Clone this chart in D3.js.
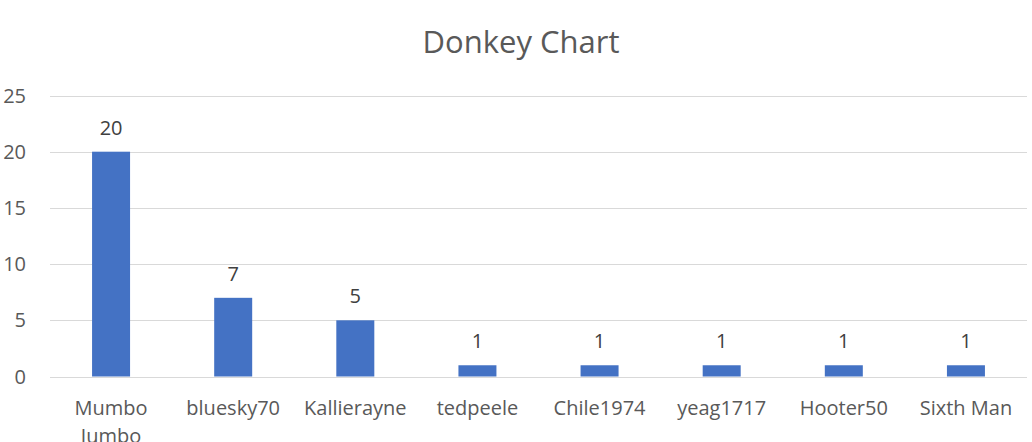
<!DOCTYPE html>
<html><head><meta charset="utf-8">
<script src="https://cdn.jsdelivr.net/npm/d3@7"></script>
<style>body{margin:0;background:#fff}svg{display:block}text{font-family:"Open Sans",sans-serif}</style>
</head><body>
<svg id="c" width="1032" height="442"></svg>
<script>
const categories = ["Mumbo Jumbo","bluesky70","Kallierayne","tedpeele","Chile1974","yeag1717","Hooter50","Sixth Man"];
const values = [20,7,5,1,1,1,1,1];
const yTicks = [0,5,10,15,20,25];
const title = "Donkey Chart";

(function(){
const svg = d3.select("#c");
const pL = 50, pR = 1027, pT = 95.5, pB = 376.5;
const x = d3.scaleBand().domain(categories).range([pL,pR]);
const y = d3.scaleLinear().domain([0,25]).range([pB,pT]);
const barW = 38;
const grey = "#595959";

svg.append("text").attr("x",521).attr("y",53).attr("text-anchor","middle")
  .attr("font-size",31).attr("fill",grey).text(title);

svg.append("g").selectAll("line").data(yTicks).join("line")
  .attr("x1",pL).attr("x2",pR).attr("y1",d=>Math.round(y(d))+0.5).attr("y2",d=>Math.round(y(d))+0.5)
  .attr("stroke","#d9d9d9").attr("stroke-width",1);

svg.append("g").selectAll("text").data(yTicks).join("text")
  .attr("x",26).attr("y",d=>y(d)+7).attr("text-anchor","end").attr("font-size",20).attr("fill",grey).text(d=>d);

svg.append("g").selectAll("rect").data(values).join("rect")
  .attr("x",(d,i)=>x(categories[i])+x.bandwidth()/2-barW/2).attr("width",barW)
  .attr("y",d=>y(d)).attr("height",d=>y(0)-y(d)).attr("fill","#4472c4");

svg.append("g").selectAll("text").data(values).join("text")
  .attr("x",(d,i)=>x(categories[i])+x.bandwidth()/2).attr("y",d=>y(d)-17)
  .attr("text-anchor","middle").attr("font-size",20).attr("fill","#404040").text(d=>d);

const cl = svg.append("g").selectAll("text").data(categories).join("text")
  .attr("x",d=>x(d)+x.bandwidth()/2).attr("y",415).attr("text-anchor","middle").attr("font-size",20).attr("fill",grey);
cl.each(function(d){
  const words = d === "Mumbo Jumbo" ? ["Mumbo","Jumbo"] : [d];
  const t = d3.select(this);
  words.forEach((w,i)=>t.append("tspan").attr("x",x(d)+x.bandwidth()/2).attr("dy",i?28:0).text(w));
});
})();
</script>
</body></html>
